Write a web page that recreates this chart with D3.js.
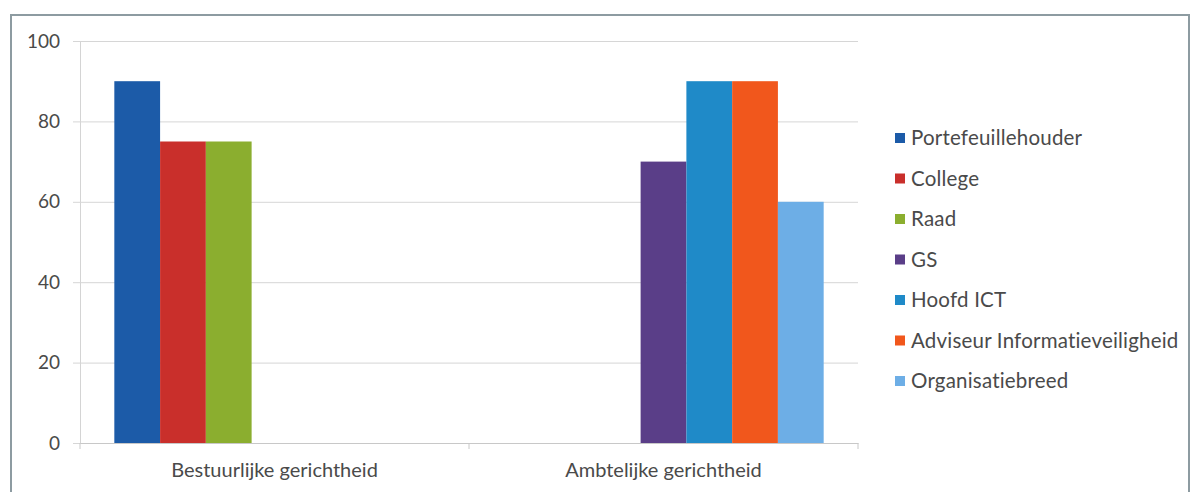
<!DOCTYPE html>
<html>
<head>
<meta charset="utf-8">
<script src="https://cdn.jsdelivr.net/npm/d3@7"></script>
<style>
  body { margin: 0; background: #fff; }
  svg text { font-family: Lato, "Open Sans", sans-serif; fill: #4a4a4a; }
</style>
</head>
<body>
<svg id="chart" width="1193" height="492"></svg>
<script>
// data
var categories = ["Bestuurlijke gerichtheid", "Ambtelijke gerichtheid"];
var seriesNames = ["Portefeuillehouder", "College", "Raad", "GS", "Hoofd ICT",
                   "Adviseur Informatieveiligheid", "Organisatiebreed"];
var bestuurlijk = [90, 75, 75, 0, 0, 0, 0];
var ambtelijk   = [0, 0, 0, 70, 90, 90, 60];
var yTicks = [0, 20, 40, 60, 80, 100];
var colors = ["#1c5ba8", "#c92f2b", "#8bae2f", "#5a3e88", "#1f8ac8", "#f1571c", "#6daee6"];

var svg = d3.select("#chart");

// outer chart frame
svg.append("rect")
    .attr("x", 11).attr("y", 15)
    .attr("width", 1178).attr("height", 520)
    .attr("fill", "none")
    .attr("stroke", "#8d9ba1")
    .attr("stroke-width", 2);

var plotL = 80, plotR = 858, plotT = 41, plotB = 443;

var y = d3.scaleLinear().domain([0, 100]).range([plotB, plotT]);
var x0 = d3.scaleBand().domain(categories).range([plotL, plotR]);
var bw = x0.bandwidth();
var gap = bw * 1.5 / (seriesNames.length + 1.5);
var x1 = d3.scaleBand().domain(seriesNames).range([gap / 2, bw - gap / 2]);
var color = d3.scaleOrdinal(seriesNames, colors);

// gridlines + y axis
var yAxis = svg.append("g")
    .attr("transform", "translate(" + plotL + ",0)")
    .call(d3.axisLeft(y).tickValues(yTicks).tickSize(-(plotR - plotL)).tickSizeOuter(0).tickPadding(20));
yAxis.select(".domain").attr("stroke", "#d4d4d4");
yAxis.selectAll(".tick line").attr("stroke", "#d6d6d6").attr("x1", -7);
yAxis.selectAll(".tick text").style("font-size", "19px").attr("fill", "#4a4a4a");

// x axis
var xAxis = svg.append("g")
    .attr("transform", "translate(0," + plotB + ")")
    .call(d3.axisBottom(x0).tickSize(0).tickPadding(20));
xAxis.select(".domain").attr("stroke", "#c8c8c8");
xAxis.selectAll(".tick text").style("font-size", "20px").attr("fill", "#4a4a4a");
xAxis.selectAll(".bound")
    .data([plotL, plotL + bw, plotR])
    .enter().append("line")
    .attr("x1", function(d) { return d; }).attr("x2", function(d) { return d; })
    .attr("y1", 0).attr("y2", 6)
    .attr("stroke", "#c8c8c8");

// bars
var rows = [bestuurlijk, ambtelijk];
var groups = svg.selectAll(".cat")
    .data(categories)
    .enter().append("g")
    .attr("class", "cat")
    .attr("transform", function(d) { return "translate(" + x0(d) + ",0)"; });

groups.selectAll("rect")
    .data(function(d, i) {
      return seriesNames.map(function(s, j) { return { key: s, value: rows[i][j] }; })
        .filter(function(d) { return d.value > 0; });
    })
    .enter().append("rect")
    .attr("x", function(d) { return x1(d.key); })
    .attr("width", x1.bandwidth())
    .attr("y", function(d) { return y(d.value); })
    .attr("height", function(d) { return plotB - y(d.value); })
    .attr("fill", function(d) { return color(d.key); });

// legend
var legend = svg.append("g").attr("transform", "translate(895,138)");
var item = legend.selectAll("g")
    .data(seriesNames)
    .enter().append("g")
    .attr("transform", function(d, i) { return "translate(0," + (i * 40.5) + ")"; });
item.append("rect")
    .attr("x", 0).attr("y", -5)
    .attr("width", 10).attr("height", 10)
    .attr("fill", function(d) { return color(d); });
item.append("text")
    .attr("x", 16).attr("dy", "0.35em")
    .style("font-size", "20.5px")
    .style("letter-spacing", "0.2px")
    .text(function(d) { return d; });
</script>
</body>
</html>
